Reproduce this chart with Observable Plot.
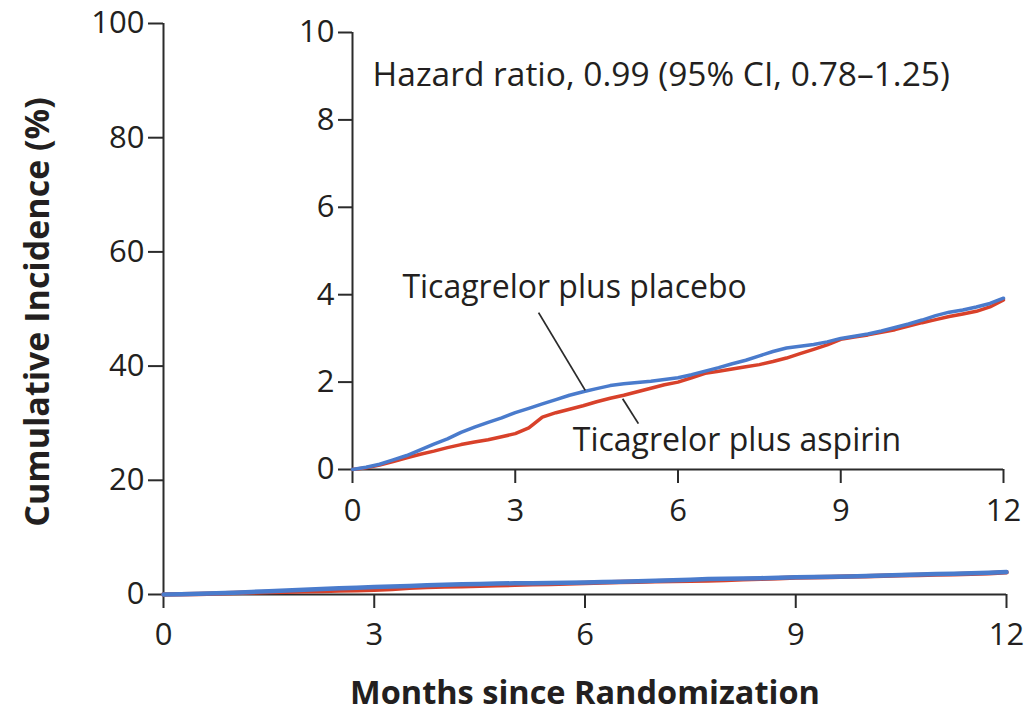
<!DOCTYPE html>
<html>
<head>
<meta charset="utf-8">
<script src="https://cdn.jsdelivr.net/npm/d3@7"></script>
<script src="https://cdn.jsdelivr.net/npm/@observablehq/plot@0.6"></script>
<style>
  html, body { margin: 0; padding: 0; background: #fff; }
  #wrap { position: relative; width: 1028px; height: 716px; }
  #wrap > div { position: absolute; left: 0; top: 0; }
</style>
</head>
<body>
<div id="wrap"><div id="main"></div><div id="inset"></div></div>
<script>
const months = [0,0.25,0.5,0.75,1,1.25,1.5,1.75,2,2.25,2.5,2.75,3,3.25,3.5,3.75,4,4.25,4.5,4.75,5,5.25,5.5,5.75,6,6.25,6.5,6.75,7,7.25,7.5,7.75,8,8.25,8.5,8.75,9,9.25,9.5,9.75,10,10.25,10.5,10.75,11,11.25,11.5,11.75,12];
const placebo = [0,0.05,0.12,0.22,0.32,0.45,0.58,0.7,0.85,0.97,1.08,1.18,1.3,1.4,1.5,1.6,1.7,1.78,1.85,1.92,1.96,1.99,2.02,2.06,2.1,2.17,2.25,2.33,2.42,2.5,2.6,2.7,2.78,2.82,2.86,2.92,3.0,3.05,3.1,3.17,3.25,3.33,3.42,3.52,3.6,3.65,3.72,3.8,3.92];
const aspirin = [0,0.04,0.1,0.18,0.27,0.35,0.42,0.5,0.57,0.63,0.68,0.75,0.82,0.95,1.2,1.3,1.38,1.46,1.55,1.63,1.7,1.78,1.86,1.94,2.0,2.1,2.2,2.25,2.3,2.35,2.4,2.47,2.55,2.65,2.75,2.85,2.98,3.03,3.08,3.14,3.2,3.28,3.36,3.43,3.5,3.56,3.62,3.72,3.88];
const seriesNames = ["Ticagrelor plus aspirin", "Ticagrelor plus placebo"];
const seriesColors = ["#d8412a", "#4a7bcc"];
const xTicks = [0, 3, 6, 9, 12];
const mainYTicks = [0, 20, 40, 60, 80, 100];
const insetYTicks = [0, 2, 4, 6, 8, 10];
const xLabel = "Months since Randomization";
const yLabel = "Cumulative Incidence (%)";
const hazardText = "Hazard ratio, 0.99 (95% CI, 0.78\u20131.25)";
// annotation anchors (data coordinates of inset)
const seriesLabels = [
  {text: "Ticagrelor plus placebo", x: 0.92, y: 4.16},
  {text: "Ticagrelor plus aspirin", x: 4.06, y: 0.66}
];
const hazardPos = [{text: hazardText, x: 0.37, y: 9.02}];
const leaders = [
  {x1: 3.43, y1: 3.59, x2: 4.29, y2: 1.81},
  {x1: 4.98, y1: 1.62, x2: 5.27, y2: 1.05}
];

const rows = [];
months.forEach((m, i) => rows.push({month: m, value: aspirin[i], series: seriesNames[0]}));
months.forEach((m, i) => rows.push({month: m, value: placebo[i], series: seriesNames[1]}));

const FONT = "'Open Sans', 'Noto Sans', sans-serif";
const INK = "#231f20";
const AX = "#2b2b2b";
const colorScale = {domain: seriesNames, range: seriesColors};

const mainPlot = Plot.plot({
  width: 1028, height: 716,
  marginLeft: 163, marginRight: 22, marginTop: 23, marginBottom: 122,
  x: {domain: [0, 12], ticks: xTicks},
  y: {domain: [0, 100], ticks: mainYTicks},
  color: colorScale,
  style: {fontFamily: FONT, fontSize: "32px", color: INK, background: "transparent", overflow: "visible"},
  marks: [
    Plot.axisY({ticks: mainYTicks, tickSize: 15, tickPadding: 4, label: null, fontSize: 31, stroke: AX, strokeWidth: 2}),
    Plot.axisX({ticks: xTicks, tickSize: 14, tickPadding: 14, label: null, fontSize: 31, stroke: AX, strokeWidth: 2}),
    Plot.ruleX([0], {stroke: AX, strokeWidth: 2}),
    Plot.ruleY([0], {stroke: AX, strokeWidth: 2}),
    Plot.line(rows, {x: "month", y: "value", z: "series", stroke: "series", strokeWidth: 4.5}),
    Plot.text([xLabel], {frameAnchor: "bottom", textAnchor: "middle", lineAnchor: "middle", dy: 99, fontSize: 32.5, fontWeight: "bold", fill: INK}),
    Plot.text([yLabel], {frameAnchor: "left", textAnchor: "middle", lineAnchor: "middle", rotate: -90, dx: -125, dy: 3, fontSize: 34, fontWeight: "bold", fill: INK})
  ]
});
document.getElementById("main").appendChild(mainPlot);

const insetPlot = Plot.plot({
  width: 1028, height: 540,
  marginLeft: 352, marginRight: 25, marginTop: 32, marginBottom: 71,
  x: {domain: [0, 12], ticks: xTicks},
  y: {domain: [0, 10], ticks: insetYTicks},
  color: colorScale,
  style: {fontFamily: FONT, fontSize: "32px", color: INK, background: "transparent", overflow: "visible"},
  marks: [
    Plot.axisY({ticks: insetYTicks, tickSize: 14, tickPadding: 4, label: null, fontSize: 31, stroke: AX, strokeWidth: 2}),
    Plot.axisX({ticks: xTicks, tickSize: 14, tickPadding: 15, label: null, fontSize: 31, stroke: AX, strokeWidth: 2}),
    Plot.ruleX([0], {stroke: AX, strokeWidth: 2}),
    Plot.ruleY([0], {stroke: AX, strokeWidth: 2}),
    Plot.line(rows, {x: "month", y: "value", z: "series", stroke: "series", strokeWidth: 3.5}),
    Plot.link(leaders, {x1: "x1", y1: "y1", x2: "x2", y2: "y2", stroke: AX, strokeWidth: 1.8}),
    Plot.text(seriesLabels, {x: "x", y: "y", text: "text", textAnchor: "start", fontSize: 32, fill: INK}),
    Plot.text(hazardPos, {x: "x", y: "y", text: "text", textAnchor: "start", fontSize: 33.5, fill: INK})
  ]
});
document.getElementById("inset").appendChild(insetPlot);
</script>
</body>
</html>
